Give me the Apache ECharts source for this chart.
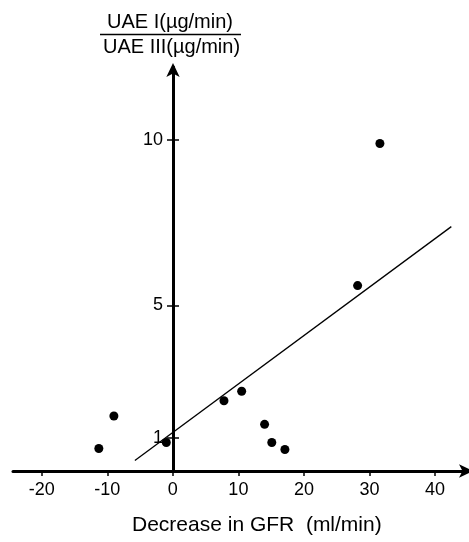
<!DOCTYPE html>
<html>
<head>
<meta charset="utf-8">
<script src="https://cdn.jsdelivr.net/npm/echarts@6/dist/echarts.min.js"></script>
<style>
  html, body { margin: 0; padding: 0; background: #fff; }
  #chart { width: 469px; height: 542px; }
</style>
</head>
<body>
<div id="chart"></div>
<script>
// GFR decrease (ml/min) vs UAE I / UAE III ratio
const gfrDecrease = [-11.3, -9.0, -1.0, 7.8, 10.5, 14.0, 15.1, 17.1, 28.2, 31.6]
const uaeRatio = [0.68, 1.66, 0.86, 2.12, 2.41, 1.41, 0.86, 0.65, 5.6, 9.89]
// regression line end points
const fitX = [-5.8, 42.5]
const fitY = [0.32, 7.38]
const xTicks = [-20, -10, 0, 10, 20, 30, 40]
const yTicks = [1, 5, 10]

const font = 'Liberation Sans, Arial, Helvetica, sans-serif'
const points = gfrDecrease.map((x, i) => [x, uaeRatio[i]])
const fitLine = fitX.map((x, i) => [x, fitY[i]])

// y axis sits on x = 0: 160px in from the grid's left edge, 296px in from its right
const leftOffset = -160
const rightOffset = -296

const chart = echarts.init(document.getElementById('chart'))
chart.setOption({
  animation: false,
  grid: { left: 13, right: 0, top: 67, bottom: 71, outerBoundsMode: 'none', containLabel: false },
  xAxis: {
    type: 'value',
    min: -24.4,
    max: 45.2,
    splitLine: { show: false },
    axisLine: {
      lineStyle: { color: '#000', width: 3 },
      symbol: ['none', 'arrow'],
      symbolSize: [10, 14],
      symbolOffset: [0, 4]
    },
    axisTick: { customValues: xTicks, length: 5, lineStyle: { color: '#000', width: 1.5 } },
    axisLabel: { customValues: xTicks, color: '#000', fontSize: 18, fontFamily: font, margin: 10 }
  },
  yAxis: [{
    type: 'value',
    min: 0,
    max: 12.2,
    position: 'left',
    offset: leftOffset,
    splitLine: { show: false },
    axisLine: {
      onZero: false,
      lineStyle: { color: '#000', width: 3 },
      symbol: ['none', 'arrow'],
      symbolSize: [10, 14],
      symbolOffset: [0, 4]
    },
    axisTick: { customValues: yTicks, length: 6, lineStyle: { color: '#000', width: 1.5 } },
    axisLabel: { customValues: yTicks, color: '#000', fontSize: 18, fontFamily: font, margin: 10 }
  }, {
    // right half of the crossing ticks
    type: 'value',
    min: 0,
    max: 12.2,
    position: 'right',
    offset: rightOffset,
    splitLine: { show: false },
    axisLine: { show: true, onZero: false, lineStyle: { color: 'rgba(0,0,0,0)' } },
    axisTick: { show: true, customValues: yTicks, length: 6, lineStyle: { color: '#000', width: 1.5 } },
    axisLabel: { show: false }
  }],
  series: [{
    type: 'line',
    data: fitLine,
    showSymbol: false,
    lineStyle: { color: '#000', width: 1.3 },
    z: 3
  }, {
    type: 'scatter',
    data: points,
    symbolSize: 9,
    itemStyle: { color: '#000', opacity: 1 },
    z: 4
  }],
  graphic: [{
    type: 'text',
    x: 107,
    y: 22.5,
    style: { text: 'UAE I(µg/min)', fill: '#000', font: '20px ' + font, verticalAlign: 'middle' }
  }, {
    type: 'line',
    shape: { x1: 100, y1: 34.5, x2: 241, y2: 34.5 },
    style: { stroke: '#000', lineWidth: 1.5 }
  }, {
    type: 'text',
    x: 103,
    y: 47,
    style: { text: 'UAE III(µg/min)', fill: '#000', font: '20px ' + font, verticalAlign: 'middle' }
  }, {
    type: 'text',
    x: 132,
    y: 525,
    style: { text: 'Decrease in GFR  (ml/min)', fill: '#000', font: '21px ' + font, verticalAlign: 'middle' }
  }]
})
window.addEventListener('resize', function () {
  chart.resize()
})
</script>
</body>
</html>
